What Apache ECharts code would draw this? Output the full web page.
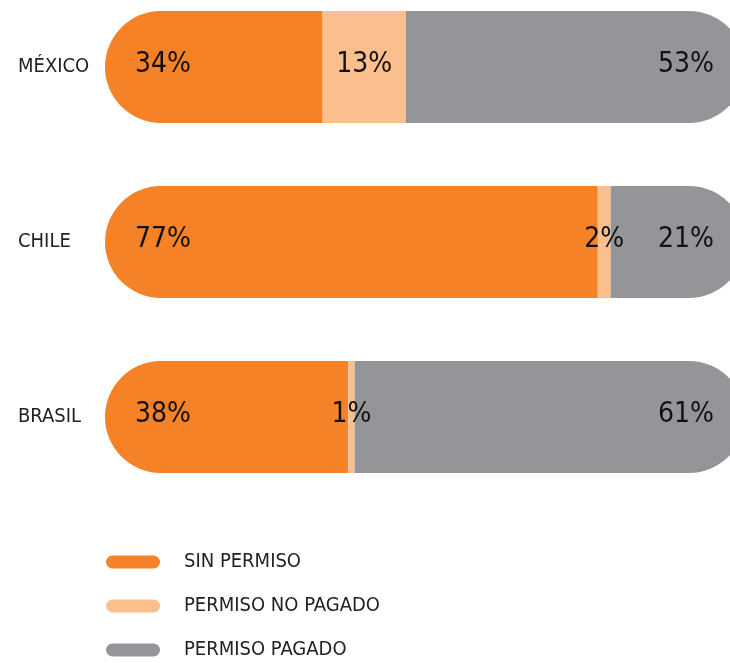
<!DOCTYPE html>
<html>
<head>
<meta charset="utf-8">
<script src="https://cdn.jsdelivr.net/npm/echarts@6/dist/echarts.min.js"></script>
<style>
  html, body { margin: 0; padding: 0; background: #fff; }
  #chart { width: 730px; height: 663px; }
</style>
</head>
<body>
<div id="chart"></div>
<script>
  // datos
  const paises = ['MÉXICO', 'CHILE', 'BRASIL'];
  const sinPermiso = [34, 77, 38];
  const permisoNoPagado = [13, 2, 1];
  const permisoPagado = [53, 21, 61];

  const font = 'DejaVu Sans Condensed';
  const r = 56; // radio de los extremos redondeados

  const chart = echarts.init(document.getElementById('chart'));

  const labelStyle = {
    show: true,
    formatter: '{c}%',
    color: '#111',
    fontFamily: font,
    fontSize: 28,
    offset: [0, -2],
  };

  const option = {
    animation: false,
    grid: { left: 105, width: 640, top: 67, height: 350, outerBoundsMode: 'none' },
    xAxis: { type: 'value', min: 0, max: 100, show: false },
    yAxis: {
      type: 'category',
      data: paises,
      inverse: true,
      boundaryGap: false,
      axisLine: { show: false },
      axisTick: { show: false },
      splitLine: { show: false },
      axisLabel: { color: '#222', fontFamily: font, fontSize: 20, margin: 87, align: 'left' },
    },
    legend: {
      orient: 'vertical',
      left: 106,
      top: 552,
      padding: 0,
      itemWidth: 54,
      itemHeight: 13,
      itemGap: 24,
      icon: 'path://M6.5,0 H47.5 A6.5,6.5 0 0 1 47.5,13 H6.5 A6.5,6.5 0 0 1 6.5,0 Z',
      textStyle: { color: '#222', fontFamily: font, fontSize: 20, padding: [0, 0, 0, 19] },
    },
    series: [
      {
        name: 'SIN PERMISO',
        type: 'bar',
        stack: 'total',
        barWidth: 112,
        data: sinPermiso,
        itemStyle: { color: '#F58226', borderRadius: [r, 0, 0, r] },
        label: { ...labelStyle, position: 'insideLeft', distance: 30 },
      },
      {
        name: 'PERMISO NO PAGADO',
        type: 'bar',
        stack: 'total',
        barWidth: 112,
        data: permisoNoPagado,
        itemStyle: { color: '#FBBF8E' },
        label: { ...labelStyle, position: 'inside' },
      },
      {
        name: 'PERMISO PAGADO',
        type: 'bar',
        stack: 'total',
        barWidth: 112,
        data: permisoPagado,
        itemStyle: { color: '#939598', borderRadius: [0, r, r, 0] },
        label: { ...labelStyle, position: 'insideRight', distance: 31 },
      },
    ],
  };

  chart.setOption(option);
</script>
</body>
</html>
